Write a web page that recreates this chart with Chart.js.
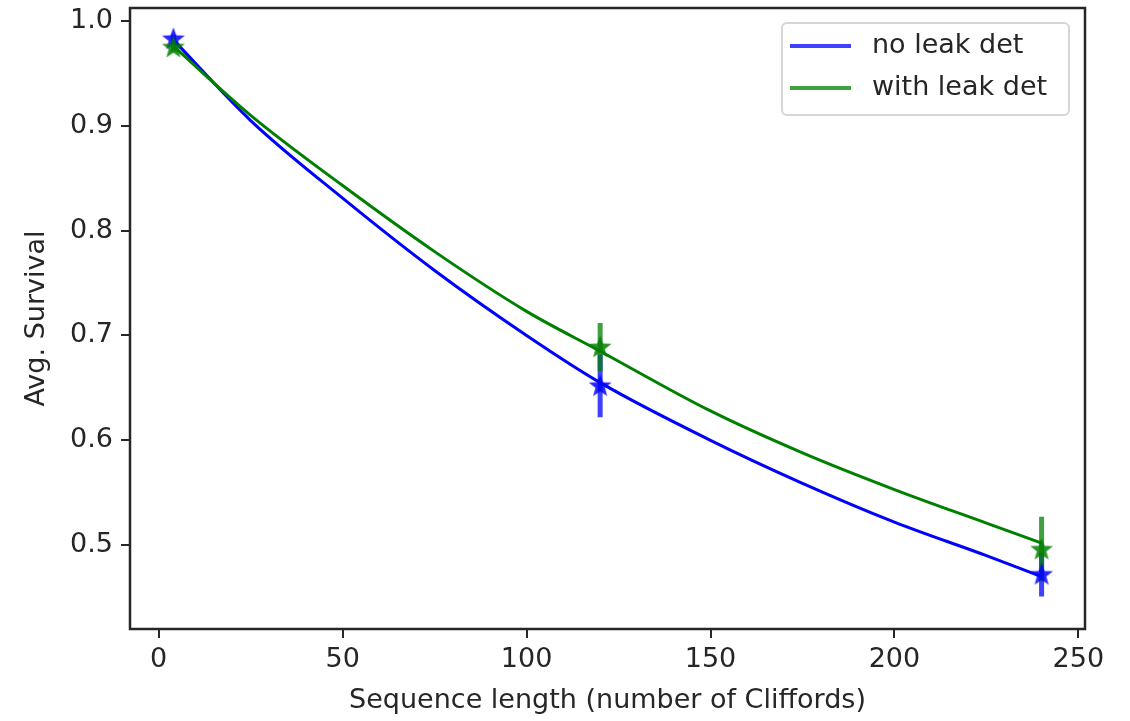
<!DOCTYPE html>
<html>
<head>
<meta charset="utf-8">
<script src="https://cdn.jsdelivr.net/npm/chart.js@4.4.1/dist/chart.umd.min.js"></script>
<style>
  html, body { margin: 0; padding: 0; background: #fff; }
  #wrap { width: 1130px; height: 721px; }
</style>
</head>
<body>
<div id="wrap"><canvas id="myChart" width="1130" height="721"></canvas></div>
<script>
// measured points (sequence length, survival, error)
const seqLen = [4, 120, 240]
const noLeakY = [0.983, 0.652, 0.472]
const noLeakErr = [0.004, 0.030, 0.021]
const leakY = [0.975, 0.689, 0.496]
const leakErr = [0.004, 0.023, 0.031]

// fitted curves
const fitX = [4, 25, 50, 75, 100, 120, 150, 175, 200, 225, 240]
const noLeakFit = [0.982, 0.905, 0.831, 0.762, 0.700, 0.655, 0.600, 0.559, 0.522, 0.490, 0.470]
const leakFit = [0.976, 0.910, 0.843, 0.780, 0.723, 0.685, 0.628, 0.588, 0.553, 0.521, 0.502]

const xTicks = [0, 50, 100, 150, 200, 250]
const yTicks = [0.5, 0.6, 0.7, 0.8, 0.9, 1.0]

const legendNames = ['no leak det', 'with leak det']

const FONT = 'DejaVu Sans'
const BLUE = '#0000ff'
const GREEN = '#008000'

function starImg(color) {
  const c = document.createElement('canvas')
  c.width = 24; c.height = 24
  const g = c.getContext('2d')
  g.fillStyle = color
  g.beginPath()
  for (let i = 0; i < 10; i++) {
    const r = i % 2 === 0 ? 12 : 5
    const a = -Math.PI / 2 + i * Math.PI / 5
    const px = 12 + r * Math.cos(a), py = 12.5 + r * Math.sin(a)
    if (i === 0) g.moveTo(px, py); else g.lineTo(px, py)
  }
  g.closePath()
  g.fill()
  return c
}

function pts(xs, ys) { return xs.map((x, i) => ({ x: x, y: ys[i] })) }
function errBars(xs, ys, es) {
  const out = []
  xs.forEach((x, i) => {
    out.push({ x: x, y: ys[i] - es[i] })
    out.push({ x: x, y: ys[i] + es[i] })
    out.push({ x: x, y: null })
  })
  return out
}

const frame = {
  id: 'frame',
  afterDraw(chart) {
    const { ctx, chartArea: a } = chart
    ctx.save()
    ctx.strokeStyle = '#262626'
    ctx.lineWidth = 2.5
    ctx.strokeRect(a.left, a.top, a.right - a.left, a.bottom - a.top)

    // legend box
    const bx = 782, by = 23, bw = 287, bh = 92
    ctx.fillStyle = 'rgba(255,255,255,0.85)'
    ctx.strokeStyle = '#d6d6d6'
    ctx.lineWidth = 2
    ctx.beginPath()
    ctx.roundRect(bx, by, bw, bh, 5)
    ctx.fill(); ctx.stroke()
    const cols = ['rgba(0,0,255,0.75)', 'rgba(0,128,0,0.75)']
    legendNames.forEach((name, i) => {
      const y = 46 + i * 42
      ctx.strokeStyle = cols[i]
      ctx.lineWidth = 4
      ctx.beginPath(); ctx.moveTo(790, y); ctx.lineTo(851, y); ctx.stroke()
      ctx.fillStyle = '#262626'
      ctx.font = '27px "' + FONT + '"'
      ctx.textBaseline = 'middle'
      ctx.fillText(name, 872, y)
    })
    ctx.restore()
  }
}

const ctx = document.getElementById('myChart')

new Chart(ctx, {
  type: 'scatter',
  data: {
    datasets: [
      {
        label: 'no leak err',
        data: errBars(seqLen, noLeakY, noLeakErr),
        showLine: true, spanGaps: false,
        borderColor: 'rgba(0,0,255,0.75)', borderWidth: 5,
        pointRadius: 0, order: 5
      },
      {
        label: 'with leak err',
        data: errBars(seqLen, leakY, leakErr),
        showLine: true, spanGaps: false,
        borderColor: 'rgba(0,128,0,0.75)', borderWidth: 5,
        pointRadius: 0, order: 4
      },
      {
        label: 'no leak fit',
        data: pts(fitX, noLeakFit),
        showLine: true, cubicInterpolationMode: 'monotone',
        borderColor: BLUE, borderWidth: 3,
        pointRadius: 0, order: 3
      },
      {
        label: 'with leak fit',
        data: pts(fitX, leakFit),
        showLine: true, cubicInterpolationMode: 'monotone',
        borderColor: GREEN, borderWidth: 3,
        pointRadius: 0, order: 2
      },
      {
        label: 'no leak det',
        data: pts(seqLen, noLeakY),
        pointStyle: starImg('rgba(0,0,255,0.85)'),
        order: 1
      },
      {
        label: 'with leak det',
        data: pts(seqLen, leakY),
        pointStyle: starImg('rgba(0,128,0,0.85)'),
        order: 0
      }
    ]
  },
  options: {
    responsive: false,
    animation: false,
    events: [],
    layout: { padding: { left: 17, right: 45, top: 8, bottom: 0 } },
    plugins: { legend: { display: false }, tooltip: { enabled: false } },
    scales: {
      x: {
        type: 'linear',
        min: -7.8, max: 251.8,
        afterBuildTicks: s => { s.ticks = xTicks.map(v => ({ value: v })) },
        afterFit: s => { s.height = 92; s.paddingLeft = 0; s.paddingRight = 0 },
        grid: { drawOnChartArea: false, drawTicks: true, tickLength: 9, color: '#262626', lineWidth: 2 },
        border: { display: false },
        ticks: { color: '#262626', font: { family: FONT, size: 27 }, padding: 6, maxRotation: 0 },
        title: { display: true, text: 'Sequence length (number of Cliffords)', color: '#262626', font: { family: FONT, size: 27 }, padding: { top: 2 } }
      },
      y: {
        type: 'linear',
        min: 0.42, max: 1.0124,
        afterBuildTicks: s => { s.ticks = yTicks.map(v => ({ value: v })) },
        afterFit: s => { s.width = 113; s.paddingTop = 0; s.paddingBottom = 0 },
        grid: { drawOnChartArea: false, drawTicks: true, tickLength: 9, color: '#262626', lineWidth: 2 },
        border: { display: false },
        ticks: { color: '#262626', font: { family: FONT, size: 27 }, padding: 8, callback: v => v.toFixed(1) },
        title: { display: true, text: 'Avg. Survival', color: '#262626', font: { family: FONT, size: 27 }, padding: { bottom: 4 } }
      }
    }
  },
  plugins: [frame]
})
</script>
</body>
</html>
